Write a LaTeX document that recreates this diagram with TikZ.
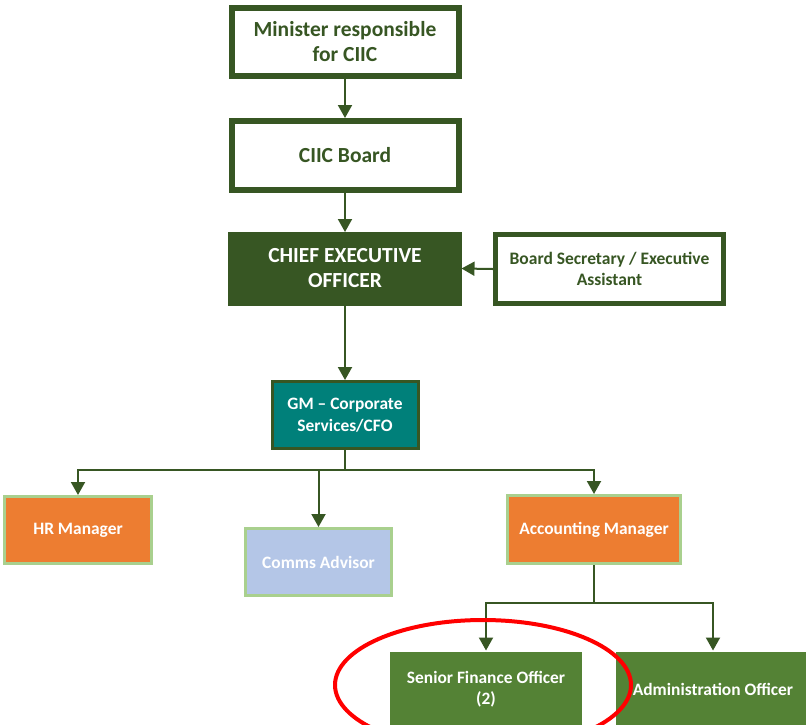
\documentclass[tikz,border=0pt]{standalone}
\usepackage{fontspec}
\setmainfont{Carlito}
\usetikzlibrary{arrows.meta}

\definecolor{dkgreen}{HTML}{375623}
\definecolor{gmteal}{HTML}{00807A}
\definecolor{ltgreen}{HTML}{A9D08E}
\definecolor{orng}{HTML}{ED7D31}
\definecolor{ltblue}{HTML}{B4C6E7}
\definecolor{midgreen}{HTML}{548235}

\tikzset{
  topbox/.style={draw=dkgreen, line width=6pt, fill=white, text=dkgreen,
    font=\bfseries\fontsize{21.5}{25}\selectfont, align=center,
    minimum width=227pt, minimum height=68pt, inner sep=0pt},
  ceobox/.style={draw=dkgreen, fill=dkgreen, text=white, line width=0pt,
    font=\bfseries\fontsize{21.5}{25}\selectfont, align=center,
    minimum width=233pt, minimum height=73pt, inner sep=0pt},
  staffbox/.style={draw=ltgreen, line width=3pt, text=white,
    font=\bfseries\fontsize{17.4}{21.5}\selectfont, align=center,
    minimum width=147pt, minimum height=67pt, inner sep=0pt},
  link/.style={draw=dkgreen, line width=2pt,
    -{Triangle[width=14pt,length=13pt]}}
}

\begin{document}
\begin{tikzpicture}[x=1pt,y=-1pt]
  \useasboundingbox (0,0) rectangle (806,724);
  \clip (0,0) rectangle (806,724);

  %% Top of the chart
  \node[topbox] (minister) at (345,42) {Minister responsible\\for CIIC};
  \node[topbox, minimum height=69pt] (board) at (345,155.5) {CIIC Board};
  \node[ceobox] (ceo) at (345,268.5) {CHIEF EXECUTIVE\\OFFICER};
  \node[topbox, line width=5pt, minimum width=228pt, minimum height=69pt,
    font=\bfseries\fontsize{17.5}{21}\selectfont] (boardsec) at (609.5,269)
    {Board Secretary / Executive\\Assistant};

  \node[staffbox, draw=dkgreen, fill=gmteal, minimum width=146pt] (gm)
    at (345,415) {GM -- Corporate\\Services/CFO};

  %% Managers
  \node[staffbox, fill=orng] (hr) at (78,530) {HR Manager};
  \node[staffbox, fill=ltblue, minimum width=146pt] (comms) at (318.5,562) {Comms Advisor};
  \node[staffbox, fill=orng, minimum width=173pt, minimum height=68pt] (acct)
    at (594,529.5) {Accounting Manager};

  %% Officers
  \node[staffbox, draw=none, fill=midgreen, minimum width=192pt, minimum height=74pt]
    (sfo) at (486,689) {Senior Finance Officer\\(2)};
  \node[staffbox, draw=none, fill=midgreen, minimum width=194pt, minimum height=74pt]
    (admin) at (713,689) {Administration Officer};

  %% Reporting lines
  \draw[link] (minister.south) -- (board.north);
  \draw[link] (board.south) -- (ceo.north);
  \draw[link] (boardsec.west) -- (ceo.east);
  \draw[link] (ceo.south) -- (gm.north);
  \draw[link] (gm.south) -- ++(0,20) -| (hr.north);
  \draw[link] (gm.south) -- ++(0,20) -| (comms.north);
  \draw[link] (gm.south) -- ++(0,20) -| (acct.north);
  \draw[link] (acct.south) -- ++(0,38) -| (sfo.north);
  \draw[link] (acct.south) -- ++(0,38) -| (admin.north);

  %% Highlight
  \draw[red, line width=4pt] (483,685) ellipse [x radius=148, y radius=65];
\end{tikzpicture}
\end{document}
